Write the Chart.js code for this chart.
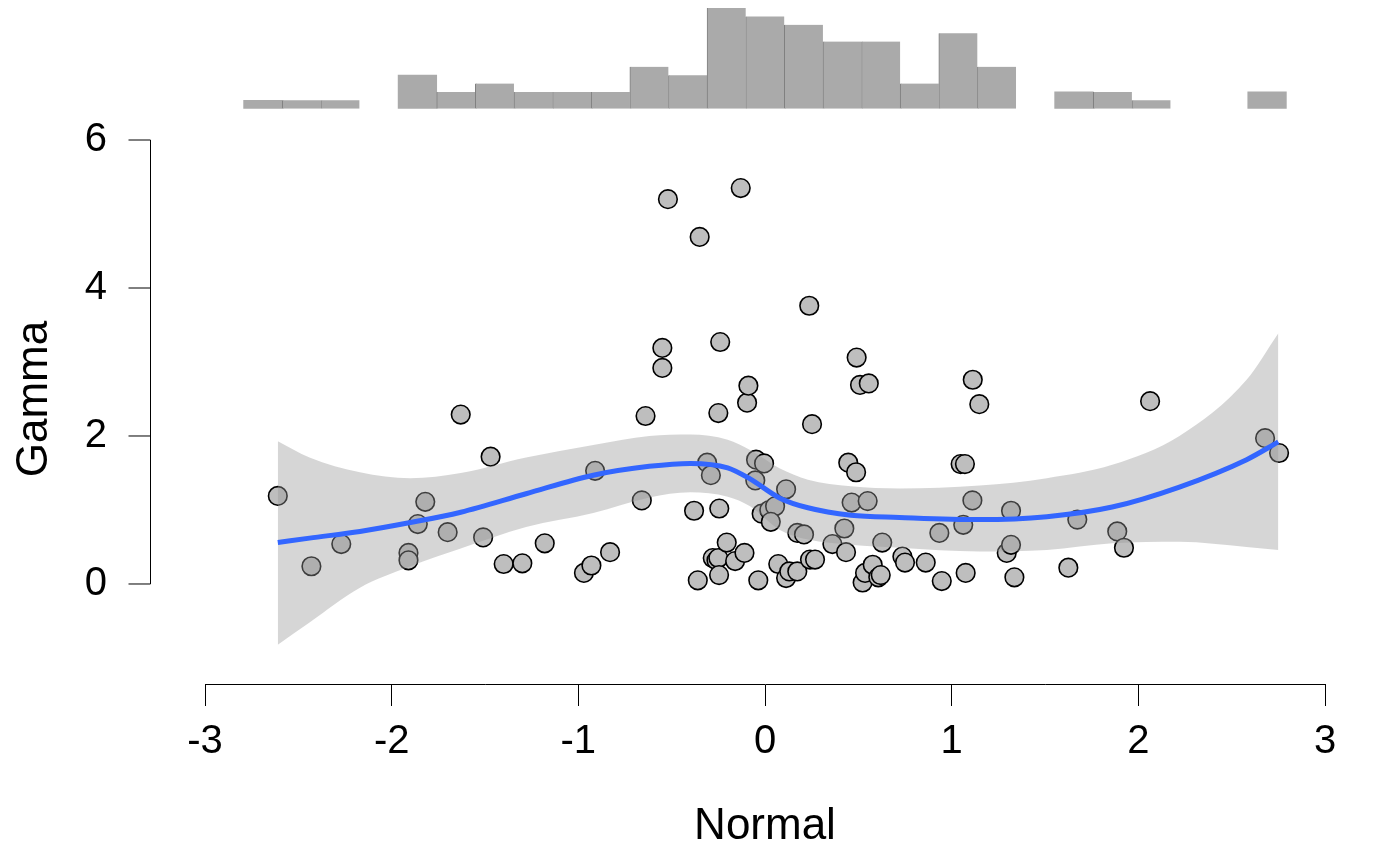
<!DOCTYPE html>
<html>
<head>
<meta charset="utf-8">
<script src="https://cdn.jsdelivr.net/npm/chart.js@4.4.1/dist/chart.umd.min.js"></script>
<style>
  html, body { margin: 0; padding: 0; background: #ffffff; }
  #wrap { position: relative; width: 1400px; height: 866px; }
  #main { position: absolute; left: 0; top: 0; }
  #hist { position: absolute; left: 0; top: 0; }
</style>
</head>
<body>
<div id="wrap">
  <canvas id="main" width="1400" height="866"></canvas>
  <canvas id="hist" width="1400" height="130"></canvas>
</div>
<script>
// ---- data ----
const xTicks = [-3, -2, -1, 0, 1, 2, 3];
const yTicks = [0, 2, 4, 6];
const xTitle = 'Normal';
const yTitle = 'Gamma';

const pointsX = [-2.61,-2.43,-2.27,-1.91,-1.91,-1.86,-1.82,-1.70,-1.63,-1.51,-1.47,-1.40,-1.30,-1.18,-0.97,-0.93,-0.91,-0.83,-0.66,-0.64,
  -0.55,-0.55,-0.52,-0.38,-0.36,-0.35,-0.31,-0.29,-0.28,-0.26,-0.25,-0.245,-0.246,-0.24,-0.25,-0.205,-0.16,-0.13,-0.11,-0.096,
  -0.089,-0.048,-0.052,-0.036,-0.018,-0.005,0.023,0.054,0.031,0.071,0.113,0.113,0.130,0.173,0.173,0.209,0.237,0.241,0.252,0.268,
  0.361,0.425,0.434,0.446,0.464,0.491,0.488,0.509,0.523,0.536,0.550,0.556,0.577,0.607,0.620,0.628,0.736,0.750,0.861,0.934,
  0.947,1.048,1.071,1.062,1.075,1.111,1.113,1.148,1.295,1.318,1.318,1.336,1.625,1.673,1.887,1.923,2.063,2.679,2.754];
const pointsY = [1.19,0.24,0.54,0.42,0.32,0.81,1.11,0.70,2.29,0.63,1.72,0.27,0.28,0.55,0.15,0.25,1.53,0.43,1.13,2.27,
  3.19,2.92,5.20,0.99,0.05,4.69,1.64,1.47,0.35,0.32,0.35,1.02,0.12,3.27,2.31,0.56,0.31,5.35,0.42,2.45,
  2.68,1.68,1.40,0.05,0.95,1.63,1.00,1.05,0.84,0.27,1.28,0.08,0.17,0.17,0.69,0.67,3.76,0.33,2.16,0.33,
  0.54,0.75,0.43,1.64,1.10,3.06,1.51,2.69,0.02,0.15,1.12,2.71,0.26,0.09,0.12,0.56,0.37,0.29,0.29,0.69,
  0.04,1.62,1.62,0.80,0.15,1.13,2.76,2.43,0.42,0.53,0.99,0.09,0.22,0.87,0.71,0.49,2.47,1.97,1.77];

// smooth fit and its confidence band
const smoothX  = [-2.61,-2.44,-2.17,-1.90,-1.63,-1.28,-0.92,-0.62,-0.40,-0.20,-0.08,0.08,0.23,0.46,0.72,1.15,1.51,1.86,2.22,2.58,2.75];
const smoothY  = [0.56,0.62,0.71,0.83,0.97,1.22,1.47,1.59,1.63,1.57,1.42,1.16,1.03,0.93,0.90,0.87,0.91,1.04,1.31,1.68,1.92];
const bandHigh = [1.93,1.71,1.51,1.43,1.50,1.71,1.88,2.00,2.02,1.95,1.81,1.56,1.41,1.32,1.29,1.33,1.43,1.61,2.00,2.76,3.39];
const bandLow  = [-0.82,-0.52,-0.05,0.24,0.48,0.77,0.96,1.17,1.24,1.18,1.05,0.73,0.60,0.53,0.49,0.44,0.46,0.55,0.57,0.50,0.46];

// top marginal histogram (29 equal bins spanning -3..3)
const histBins = ['-2.897','-2.690','-2.483','-2.276','-2.069','-1.862','-1.655','-1.448','-1.241','-1.034',
  '-0.828','-0.621','-0.414','-0.207','0.000','0.207','0.414','0.621','0.828','1.034',
  '1.241','1.448','1.655','1.862','2.069','2.276','2.483','2.690','2.897'];
const histCounts = [0,1,1,1,0,4,2,3,2,2,2,5,4,12,11,10,8,8,3,9,5,0,2,2,1,0,0,2,0];

// ---- styling ----
const FONT = "'Liberation Sans', Arial, Helvetica, sans-serif";
const toXY = (xs, ys) => xs.map((x, i) => ({ x: x, y: ys[i] }));

const yAxisPlugin = {
  id: 'yAxisLine',
  afterDraw(chart) {
    const ys = chart.scales.y;
    const ctx = chart.ctx;
    const ax = chart.chartArea.left - 55 + 0.5;
    const top = ys.getPixelForValue(yTicks[yTicks.length - 1]);
    const bot = ys.getPixelForValue(yTicks[0]);
    ctx.save();
    ctx.strokeStyle = '#000';
    ctx.lineWidth = 1;
    ctx.beginPath();
    ctx.moveTo(ax, top);
    ctx.lineTo(ax, bot);
    yTicks.forEach(v => {
      const p = ys.getPixelForValue(v);
      ctx.moveTo(ax, p);
      ctx.lineTo(ax - 22, p);
    });
    ctx.stroke();
    ctx.restore();
  }
};

new Chart(document.getElementById('main'), {
  type: 'scatter',
  data: {
    datasets: [
      {
        type: 'line', label: 'fit', data: toXY(smoothX, smoothY),
        borderColor: '#3366FF', borderWidth: 5, pointRadius: 0,
        cubicInterpolationMode: 'monotone', fill: false, order: 0
      },
      {
        type: 'line', label: 'upper', data: toXY(smoothX, bandHigh),
        borderColor: 'rgba(0,0,0,0)', borderWidth: 0, pointRadius: 0,
        cubicInterpolationMode: 'monotone',
        fill: '+1', backgroundColor: 'rgba(153,153,153,0.4)', order: 1
      },
      {
        type: 'line', label: 'lower', data: toXY(smoothX, bandLow),
        borderColor: 'rgba(0,0,0,0)', borderWidth: 0, pointRadius: 0,
        cubicInterpolationMode: 'monotone', fill: false, order: 1
      },
      {
        type: 'scatter', label: 'points', data: toXY(pointsX, pointsY),
        pointRadius: 9.3, pointBorderWidth: 1.6,
        pointBackgroundColor: '#bebebe', pointBorderColor: '#000000', order: 2
      }
    ]
  },
  options: {
    responsive: false,
    animation: false,
    events: [],
    layout: { padding: { left: 0, right: 75, top: 114, bottom: 0 } },
    plugins: { legend: { display: false }, tooltip: { enabled: false } },
    scales: {
      x: {
        type: 'linear', min: -3, max: 3,
        afterBuildTicks: s => { s.ticks = xTicks.map(v => ({ value: v })); },
        afterFit: s => { s.height = 182; s.paddingLeft = 0; s.paddingRight = 0; },
        border: { display: true, color: '#000', width: 1 },
        grid: { display: true, drawOnChartArea: false, drawTicks: true, tickLength: 22, tickColor: '#000', tickWidth: 1 },
        ticks: { color: '#000', padding: 12, maxRotation: 0, autoSkip: false,
                 font: { family: FONT, size: 40 }, callback: v => String(v) },
        title: { display: true, text: xTitle, color: '#000',
                 font: { family: FONT, size: 44 }, padding: { top: 0, bottom: 13 } }
      },
      y: {
        type: 'linear', min: -1.3514, max: 6.3514,
        afterBuildTicks: s => { s.ticks = yTicks.map(v => ({ value: v })); },
        afterFit: s => { s.width = 205; s.paddingTop = 0; s.paddingBottom = 0; },
        border: { display: false },
        grid: { display: false, drawTicks: false },
        ticks: { color: '#000', padding: 98, autoSkip: false,
                 font: { family: FONT, size: 40 }, callback: v => String(v) },
        title: { display: true, text: yTitle, color: '#000',
                 font: { family: FONT, size: 44 }, padding: { top: 8, bottom: 0 } }
      }
    }
  },
  plugins: [yAxisPlugin]
});

new Chart(document.getElementById('hist'), {
  type: 'bar',
  data: {
    labels: histBins,
    datasets: [{
      data: histCounts,
      backgroundColor: ctx => (histCounts[ctx.dataIndex] > 0 ? '#aaaaaa' : 'rgba(0,0,0,0)'),
      borderColor: ctx => (histCounts[ctx.dataIndex] > 0 ? '#7f7f7f' : 'rgba(0,0,0,0)'),
      borderSkipped: false,
      borderWidth: ctx => {
        const i = ctx.dataIndex;
        const prev = i > 0 ? histCounts[i - 1] : 0;
        return { left: (prev > 0 && histCounts[i] > 0) ? 1 : 0, right: 0, top: 0, bottom: 0 };
      },
      barPercentage: 1, categoryPercentage: 1
    }]
  },
  options: {
    responsive: false,
    animation: false,
    events: [],
    layout: { padding: { left: 205, right: 75, top: 8, bottom: 21.3 } },
    plugins: { legend: { display: false }, tooltip: { enabled: false } },
    scales: {
      x: { type: 'category', display: false, offset: true, grid: { offset: true } },
      y: { type: 'linear', display: false, min: 0, max: 12 }
    }
  }
});
</script>
</body>
</html>
